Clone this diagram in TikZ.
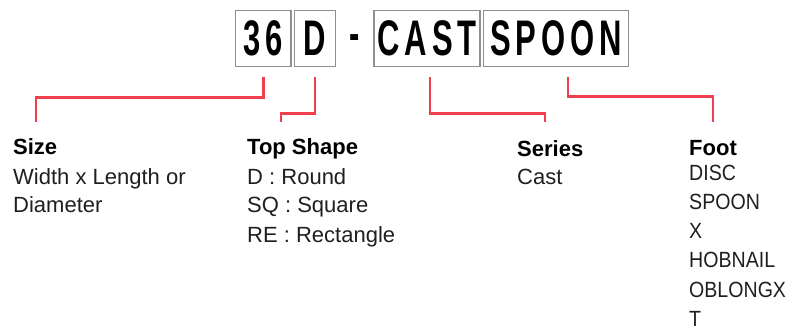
\documentclass[tikz,border=0pt]{standalone}
\usepackage{fontspec}
\setmainfont{Liberation Sans}
\newfontfamily\codefont[FakeStretch=0.62,LetterSpace=10]{Liberation Sans}
\newfontfamily\capsfont[FakeStretch=0.89]{Liberation Sans}
\usetikzlibrary{calc,positioning}
\definecolor{leadred}{HTML}{F04050}
\definecolor{boxgray}{HTML}{8C9090}
\tikzset{
  codebox/.style={draw=boxgray,line width=1.3pt,minimum height=56,inner sep=0pt,font=\codefont\bfseries\fontsize{50}{50}\selectfont},
  lead/.style={draw=leadred,line width=2.7pt},
  ttl/.style={anchor=base west,inner sep=0pt,font=\bfseries\fontsize{22}{22}\selectfont},
  txt/.style={anchor=base west,inner sep=0pt,font=\fontsize{22}{22}\selectfont,text=black!88},
  captxt/.style={txt,font=\capsfont\fontsize{22}{22}\selectfont}
}

\begin{document}
\begin{tikzpicture}[x=1pt,y=-1pt]
\useasboundingbox (0,0) rectangle (788,325);
% code boxes
\node[codebox,minimum width=55.3] (b36) at (263.4,38.7) {36};
\node[codebox,minimum width=41.4] (bD) at (315,38.7) {D};
\node[anchor=base,inner sep=0pt,font=\codefont\bfseries\fontsize{50}{50}\selectfont] (dash) at (355,50) {-};
\node[codebox,minimum width=106] (bCast) at (427,38.7) {CAST};
\node[codebox,minimum width=145.4] (bSpoon) at (556,38.7) {SPOON};
% titles
\node[ttl] (size) at (13,154) {Size};
\node[ttl] (shape) at (247,154) {Top Shape};
\node[ttl] (series) at (517,156) {Series};
\node[ttl] (foot) at (689,155) {Foot};
% descriptions
\node[txt] (size1) at (13,184) {Width x Length or};
\node[txt] (size2) at (13,212.7) {Diameter};
\node[txt] (shape1) at (247,184) {D : Round};
\node[txt] (shape2) at (247,212.7) {SQ : Square};
\node[txt] (shape3) at (247,242.7) {RE : Rectangle};
\node[txt] (series1) at (517,184) {Cast};
\foreach \w [count=\i] in {DISC,SPOON,X,HOBNAIL,OBLONGX,T}
  \node[captxt] (foot\i) at (689,150.7+29.3*\i) {\w};
% leaders
\coordinate (eSize) at (36,122);
\coordinate (eShape) at (281,122);
\coordinate (eSeries) at (545,122);
\coordinate (eFoot) at (713,122);
\draw[lead] ($(b36.south)+(0,10)$) -- ++(0,20) -| (eSize);
\draw[lead] ($(bD.south)+(0,10)$) -- ++(0,36) -| (eShape);
\draw[lead] ($(bCast.south)+(3,10)$) -- ++(0,36) -| (eSeries);
\draw[lead] ($(bSpoon.south)+(12,10)$) -- ++(0,19) -| (eFoot);
\end{tikzpicture}
\end{document}
